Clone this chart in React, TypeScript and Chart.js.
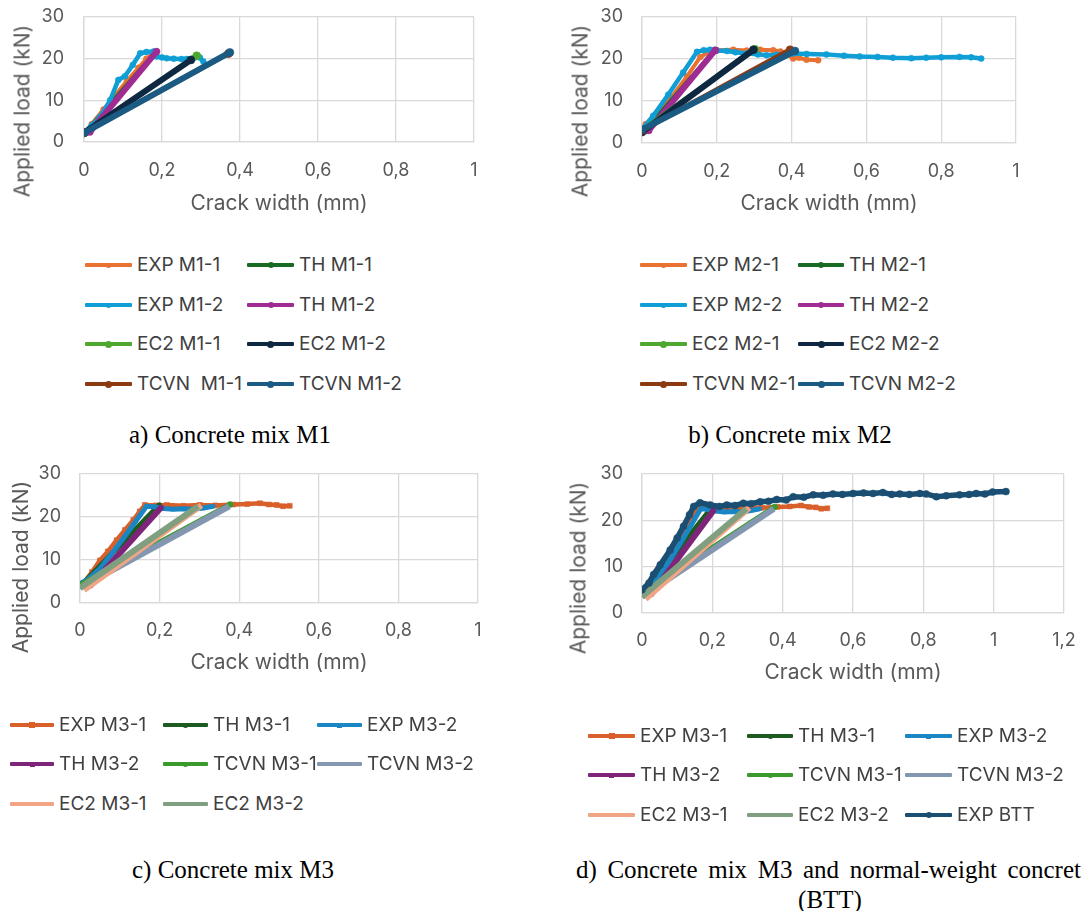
import React, { useEffect, useRef } from 'react';
import { Chart, registerables } from 'chart.js';
Chart.register(...registerables);

const FONT = 'Inter, "Open Sans", sans-serif';
const GRID = '#d9d9d9';
const TXT = '#595959';

// ---------- Data: Panel a (M1) ----------
const expM11X = [0, 0.02, 0.05, 0.08, 0.11, 0.14, 0.16, 0.175];
const expM11Y = [2.2, 4.3, 7.8, 11.2, 14.6, 17.8, 20.0, 21.0];
const thM11X = [0.005, 0.18];
const thM11Y = [2.3, 21.0];
const expM12X = [0, 0.02, 0.041, 0.067, 0.088, 0.105, 0.125, 0.144, 0.16, 0.178, 0.186, 0.2, 0.212, 0.23, 0.25, 0.263, 0.28, 0.297, 0.306];
const expM12Y = [2.2, 4.0, 6.0, 10.0, 14.9, 15.8, 18.5, 21.3, 21.6, 21.7, 20.5, 20.3, 20.1, 20.0, 19.9, 19.9, 20.1, 20.3, 19.3];
const thM12X = [0.015, 0.186];
const thM12Y = [2.4, 21.7];
const ec2M11X = [0, 0.289];
const ec2M11Y = [2.2, 20.7];
const ec2M12X = [0, 0.274];
const ec2M12Y = [2.2, 19.7];
const tcvnM11X = [0, 0.37];
const tcvnM11Y = [2.2, 21.2];
const tcvnM12X = [0, 0.374];
const tcvnM12Y = [2.2, 21.5];

// ---------- Data: Panel b (M2) ----------
const expM21X = [0, 0.01, 0.04, 0.08, 0.12, 0.156, 0.18, 0.2, 0.244, 0.28, 0.316, 0.351, 0.37, 0.387, 0.404, 0.42, 0.44, 0.471];
const expM21Y = [3.0, 4.5, 7.0, 11.0, 15.8, 20.5, 21.7, 22.1, 22.2, 22.0, 22.2, 22.1, 21.8, 21.3, 20.1, 20.3, 19.8, 19.7];
const thM21X = [0.01, 0.195];
const thM21Y = [3.0, 22.0];
const expM22X = [0, 0.03, 0.07, 0.11, 0.147, 0.165, 0.182, 0.2, 0.227, 0.25, 0.28, 0.31, 0.333, 0.36, 0.38, 0.404, 0.44, 0.493, 0.54, 0.582, 0.63, 0.671, 0.72, 0.76, 0.8, 0.849, 0.88, 0.907];
const expM22Y = [3.2, 6.5, 11.5, 16.8, 21.7, 22.1, 22.2, 22.0, 21.9, 21.6, 21.3, 21.1, 20.9, 21.0, 21.2, 21.3, 21.2, 21.1, 20.8, 20.6, 20.5, 20.3, 20.2, 20.3, 20.4, 20.5, 20.4, 20.1];
const thM22X = [0.018, 0.196];
const thM22Y = [3.0, 22.1];
const ec2M21X = [0, 0.302];
const ec2M21Y = [3.0, 22.3];
const ec2M22X = [0, 0.298];
const ec2M22Y = [2.6, 22.2];
const tcvnM21X = [0, 0.396];
const tcvnM21Y = [3.0, 22.2];
const tcvnM22X = [0, 0.409];
const tcvnM22Y = [3.2, 21.9];

// ---------- Data: Panels c, d (M3, BTT) ----------
const expM31X = [0, 0.008, 0.03, 0.05, 0.07, 0.092, 0.113, 0.134, 0.15, 0.163, 0.19, 0.218, 0.26, 0.301, 0.34, 0.385, 0.42, 0.452, 0.475, 0.494, 0.51, 0.527];
const expM31Y = [4.0, 4.5, 7.2, 9.9, 12.0, 14.6, 17.0, 19.3, 21.3, 22.8, 22.7, 22.8, 22.6, 22.8, 22.7, 22.9, 23.0, 23.2, 22.9, 22.8, 22.5, 22.6];
const thM31X = [0.005, 0.2];
const thM31Y = [4.3, 22.9];
const expM32X = [0, 0.02, 0.05, 0.08, 0.11, 0.14, 0.167, 0.185, 0.21, 0.234, 0.26, 0.285, 0.31, 0.335];
const expM32Y = [4.5, 5.5, 8.0, 11.5, 15.2, 19.0, 22.5, 22.4, 22.0, 21.8, 21.9, 21.8, 22.1, 22.5];
const thM32X = [0.025, 0.205];
const thM32Y = [3.9, 22.3];
const tcvnM31X = [0, 0.377];
const tcvnM31Y = [4.2, 22.9];
const tcvnM32X = [0, 0.375];
const tcvnM32Y = [3.5, 22.5];
const ec2M31X = [0.01, 0.305];
const ec2M31Y = [3.0, 22.7];
const ec2M32X = [0, 0.297];
const ec2M32Y = [3.5, 22.5];
const expBttX = [0, 0.02, 0.033, 0.052, 0.08, 0.1, 0.118, 0.135, 0.147, 0.165, 0.194, 0.22, 0.241, 0.265, 0.288, 0.31, 0.336, 0.36, 0.383, 0.41, 0.43, 0.46, 0.487, 0.515, 0.543, 0.57, 0.6, 0.63, 0.657, 0.685, 0.71, 0.733, 0.76, 0.79, 0.808, 0.837, 0.865, 0.903, 0.93, 0.95, 0.975, 0.997, 1.035];
const expBttY = [5.0, 6.5, 8.3, 10.4, 13.6, 16.2, 18.7, 21.2, 23.0, 23.8, 23.3, 23.0, 23.3, 23.2, 23.7, 23.6, 24.0, 24.1, 24.5, 24.4, 25.1, 25.0, 25.5, 25.4, 25.7, 25.6, 25.8, 25.9, 25.8, 26.0, 25.6, 25.7, 25.6, 25.8, 25.7, 25.1, 25.3, 25.5, 25.6, 25.8, 25.7, 26.1, 26.2];

const yTicks = [0, 10, 20, 30];
const xMaxABC = 1;
const xMaxD = 1.2;

type S = { label: string; xs: number[]; ys: number[]; color: string; width: number; radius: number; style: string };

const seriesA: S[] = [
  { label: 'EXP M1-1', xs: expM11X, ys: expM11Y, color: '#E97132', width: 4, radius: 3, style: 'circle' },
  { label: 'TH M1-1', xs: thM11X, ys: thM11Y, color: '#196B24', width: 5, radius: 3.5, style: 'circle' },
  { label: 'EXP M1-2', xs: expM12X, ys: expM12Y, color: '#0F9ED5', width: 4.5, radius: 3, style: 'circle' },
  { label: 'TH M1-2', xs: thM12X, ys: thM12Y, color: '#A02B93', width: 6, radius: 3.5, style: 'circle' },
  { label: 'EC2 M1-1', xs: ec2M11X, ys: ec2M11Y, color: '#4EA72E', width: 5, radius: 4, style: 'circle' },
  { label: 'EC2 M1-2', xs: ec2M12X, ys: ec2M12Y, color: '#0E2841', width: 6, radius: 4, style: 'circle' },
  { label: 'TCVN  M1-1', xs: tcvnM11X, ys: tcvnM11Y, color: '#8C3A12', width: 5, radius: 4, style: 'circle' },
  { label: 'TCVN M1-2', xs: tcvnM12X, ys: tcvnM12Y, color: '#1B5A82', width: 6, radius: 4, style: 'circle' },
];
const seriesB: S[] = [
  { label: 'EXP M2-1', xs: expM21X, ys: expM21Y, color: '#E97132', width: 4, radius: 3, style: 'circle' },
  { label: 'TH M2-1', xs: thM21X, ys: thM21Y, color: '#196B24', width: 5, radius: 3.5, style: 'circle' },
  { label: 'EXP M2-2', xs: expM22X, ys: expM22Y, color: '#0F9ED5', width: 4.5, radius: 3, style: 'circle' },
  { label: 'TH M2-2', xs: thM22X, ys: thM22Y, color: '#A02B93', width: 6, radius: 3.5, style: 'circle' },
  { label: 'EC2 M2-1', xs: ec2M21X, ys: ec2M21Y, color: '#4EA72E', width: 5, radius: 4, style: 'circle' },
  { label: 'EC2 M2-2', xs: ec2M22X, ys: ec2M22Y, color: '#0E2841', width: 6, radius: 4, style: 'circle' },
  { label: 'TCVN M2-1', xs: tcvnM21X, ys: tcvnM21Y, color: '#8C3A12', width: 5, radius: 4, style: 'circle' },
  { label: 'TCVN M2-2', xs: tcvnM22X, ys: tcvnM22Y, color: '#1B5A82', width: 6, radius: 4, style: 'circle' },
];
const seriesC: S[] = [
  { label: 'EXP M3-1', xs: expM31X, ys: expM31Y, color: '#D95F2B', width: 4.5, radius: 3.5, style: 'rect' },
  { label: 'TH M3-1', xs: thM31X, ys: thM31Y, color: '#1D5B20', width: 5, radius: 2, style: 'circle' },
  { label: 'EXP M3-2', xs: expM32X, ys: expM32Y, color: '#1A86C4', width: 5, radius: 2.5, style: 'rect' },
  { label: 'TH M3-2', xs: thM32X, ys: thM32Y, color: '#7E2479', width: 6, radius: 2.5, style: 'rect' },
  { label: 'TCVN M3-1', xs: tcvnM31X, ys: tcvnM31Y, color: '#3A9A2C', width: 5, radius: 3, style: 'circle' },
  { label: 'TCVN M3-2', xs: tcvnM32X, ys: tcvnM32Y, color: '#8497B0', width: 6, radius: 0, style: 'circle' },
  { label: 'EC2 M3-1', xs: ec2M31X, ys: ec2M31Y, color: '#F2A585', width: 6, radius: 0, style: 'circle' },
  { label: 'EC2 M3-2', xs: ec2M32X, ys: ec2M32Y, color: '#809F80', width: 6, radius: 0, style: 'circle' },
];
const seriesD: S[] = [
  ...seriesC,
  { label: 'EXP BTT', xs: expBttX, ys: expBttY, color: '#1A4E72', width: 5.5, radius: 3.5, style: 'circle' },
];

type Panel = {
  key: string; left: number; top: number; width: number; height: number;
  yW: number; xH: number; pad: { top: number; right: number; bottom: number };
  xMax: number; xTickPad: number; yTickPad: number; series: S[];
  yTitle: { x: number; y: number };
  legend: { cols: number[]; texts: number[]; rows: number[] };
};

const panels: Panel[] = [
  { key: 'a', left: 0, top: 0, width: 540, height: 225, yW: 84, xH: 74, pad: { top: 17, right: 66, bottom: 9 },
    xMax: xMaxABC, xTickPad: 18, yTickPad: 20, series: seriesA, yTitle: { x: 22, y: 111 },
    legend: { cols: [85, 247], texts: [137, 299], rows: [265, 305, 344, 384] } },
  { key: 'b', left: 560, top: 0, width: 523, height: 225, yW: 82, xH: 73, pad: { top: 17, right: 67, bottom: 9 },
    xMax: xMaxABC, xTickPad: 18, yTickPad: 19, series: seriesB, yTitle: { x: 580, y: 111 },
    legend: { cols: [640, 798], texts: [692, 849], rows: [265, 305, 344, 384] } },
  { key: 'c', left: 0, top: 455, width: 540, height: 230, yW: 80, xH: 72, pad: { top: 19, right: 62, bottom: 10 },
    xMax: xMaxABC, xTickPad: 17, yTickPad: 19, series: seriesC, yTitle: { x: 20, y: 567 },
    legend: { cols: [10, 163, 317], texts: [59, 213, 367], rows: [725, 764, 804] } },
  { key: 'd', left: 560, top: 455, width: 523, height: 230, yW: 82, xH: 72, pad: { top: 19, right: 19, bottom: 0 },
    xMax: xMaxD, xTickPad: 17, yTickPad: 19, series: seriesD, yTitle: { x: 578, y: 568 },
    legend: { cols: [588, 747, 905], texts: [640, 798, 957], rows: [736, 775, 815] } },
];

const fmt = (v: number) => String(Number(v.toFixed(1))).replace('.', ',');

function PanelChart({ p }: { p: Panel }) {
  const ref = useRef<HTMLCanvasElement>(null);
  useEffect(() => {
    const n = p.series.length;
    const chart = new Chart(ref.current!, {
      type: 'scatter',
      data: {
        datasets: p.series.map((s, i) => ({
          label: s.label,
          data: s.xs.map((x, j) => ({ x, y: s.ys[j] })),
          showLine: true,
          borderColor: s.color,
          backgroundColor: s.color,
          borderWidth: s.width,
          pointRadius: s.radius,
          pointBorderWidth: 0.5,
          pointStyle: s.style as any,
          pointBackgroundColor: s.color,
          pointBorderColor: s.color,
          tension: 0,
          order: n - 1 - i,
        })),
      },
      options: {
        animation: false,
        responsive: false,
        maintainAspectRatio: false,
        layout: { padding: { left: 0, ...p.pad } },
        plugins: { legend: { display: false }, tooltip: { enabled: false } },
        scales: {
          x: {
            type: 'linear', min: 0, max: p.xMax,
            afterFit: (s: any) => { s.height = p.xH; s.paddingLeft = 0; s.paddingRight = 0; },
            ticks: { stepSize: 0.2, padding: p.xTickPad, color: TXT, font: { family: FONT, size: 18 }, callback: (v: any) => fmt(Number(v)), maxRotation: 0 },
            grid: { color: GRID, lineWidth: 1.3, drawTicks: false },
            border: { color: GRID, width: 1.3 },
            title: { display: true, text: 'Crack width (mm)', color: TXT, font: { family: FONT, size: 21 }, padding: 0 },
          },
          y: {
            type: 'linear', min: yTicks[0], max: yTicks[yTicks.length - 1],
            afterFit: (s: any) => { s.width = p.yW; s.paddingTop = 0; s.paddingBottom = 0; },
            afterBuildTicks: (s: any) => { s.ticks = yTicks.map((v) => ({ value: v })); },
            ticks: { padding: p.yTickPad, color: TXT, font: { family: FONT, size: 18 } },
            grid: { color: GRID, lineWidth: 1.3, drawTicks: false },
            border: { color: GRID, width: 1.3 },
          },
        },
      },
    });
    return () => chart.destroy();
  }, [p]);
  return (
    <canvas ref={ref} width={p.width} height={p.height}
      style={{ position: 'absolute', left: p.left, top: p.top, width: p.width, height: p.height }} />
  );
}

function Legend({ p }: { p: Panel }) {
  const nc = p.legend.cols.length;
  return (
    <>
      {p.series.map((s, i) => {
        const c = i % nc;
        const r = Math.floor(i / nc);
        const x = p.legend.cols[c];
        const tx = p.legend.texts[c];
        const y = p.legend.rows[r];
        const sw = tx - x - 5;
        const mr = s.radius > 0 ? Math.max(s.radius - 0.5, 2.5) : 0;
        return (
          <React.Fragment key={s.label}>
            <div style={{ position: 'absolute', left: x, top: y - 2, width: sw, height: 4, background: s.color, borderRadius: 1 }} />
            {mr > 0 && (
              <div style={{ position: 'absolute', left: x + sw / 2 - mr, top: y - mr, width: mr * 2, height: mr * 2,
                background: s.color, borderRadius: s.style === 'circle' ? '50%' : 0 }} />
            )}
            <div style={{ position: 'absolute', left: tx, top: y - 12, height: 24, lineHeight: '24px', font: `19px ${FONT}`, color: '#404040', whiteSpace: 'pre' }}>{s.label}</div>
          </React.Fragment>
        );
      })}
    </>
  );
}

const captionStyle: React.CSSProperties = {
  position: 'absolute', fontFamily: '"Liberation Serif", "Times New Roman", serif', fontSize: 25, color: '#000', whiteSpace: 'nowrap', lineHeight: '30px',
};

export default function App() {
  return (
    <div style={{ position: 'absolute', left: 0, top: 0, width: 1083, height: 911, background: '#fff', overflow: 'hidden' }}>
      {panels.map((p) => (
        <React.Fragment key={p.key}>
          <PanelChart p={p} />
          <div style={{ position: 'absolute', left: p.yTitle.x, top: p.yTitle.y, transform: 'translate(-50%, -50%) rotate(-90deg)',
            font: `21px ${FONT}`, color: TXT, whiteSpace: 'nowrap' }}>Applied load (kN)</div>
          <Legend p={p} />
        </React.Fragment>
      ))}
      <div style={{ ...captionStyle, left: 0, width: 460, top: 420, textAlign: 'center' }}>a) Concrete mix M1</div>
      <div style={{ ...captionStyle, left: 560, width: 460, top: 420, textAlign: 'center' }}>b) Concrete mix M2</div>
      <div style={{ ...captionStyle, left: 0, width: 466, top: 855, textAlign: 'center' }}>c) Concrete mix M3</div>
      <div style={{ ...captionStyle, left: 576, width: 505, top: 855, whiteSpace: 'normal', textAlign: 'justify', textAlignLast: 'justify' as any }}>d) Concrete mix M3 and normal-weight concret</div>
      <div style={{ ...captionStyle, left: 580, width: 500, top: 885, textAlign: 'center' }}>(BTT)</div>
    </div>
  );
}
